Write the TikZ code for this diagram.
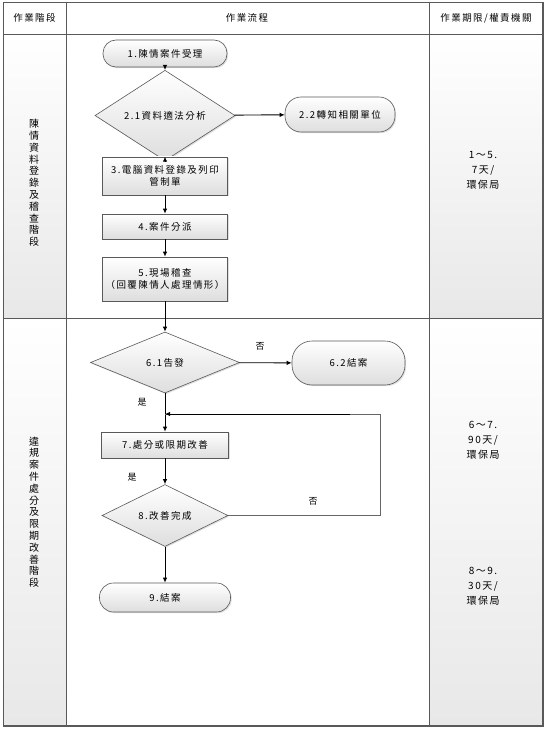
\documentclass[tikz,border=0pt]{standalone}
\usepackage{fontspec}
\setmainfont[LetterSpace=15]{Noto Sans CJK TC}
\usetikzlibrary{shapes.geometric,arrows.meta,shadows}
\begin{document}
\begin{tikzpicture}[x=1pt,y=-1pt,
  every node/.style={font=\fontsize{9.5}{12}\selectfont, inner sep=0pt},
  shp/.style={draw=black!65, line width=0.6pt, top color=white, bottom color=black!13,
    drop shadow={opacity=0.25,shadow xshift=1.2pt,shadow yshift=-1.2pt}},
  proc/.style={shp, rectangle, align=center},
  term/.style={shp, rectangle, rounded corners=13pt, align=center},
  dec/.style={shp, diamond},
  arr/.style={-{Latex[length=5pt,width=4.5pt]}, line width=0.9pt},
  loopline/.style={draw=black!60, line width=0.8pt},
  lbl/.style={font=\fontsize{9}{10}\selectfont},
  tabline/.style={draw=black!65, line width=0.8pt},
  sidecell/.style={top color=white, bottom color=black!9},
  vtext/.style={align=center, font=\fontsize{10}{11.8}\selectfont},
  rtext/.style={align=center, font=\fontsize{10}{15}\selectfont}]
\useasboundingbox (0,0) rectangle (546,730);
\fill[white] (0,0) rectangle (546,730);
% table cells
\shade[sidecell] (3.5,34) rectangle (66,318);
\shade[sidecell] (429,34) rectangle (543,318);
\shade[sidecell] (3.5,318) rectangle (66,726);
\shade[sidecell] (429,318) rectangle (543,726);
\draw[tabline, line width=1.1pt] (3.5,2.5) rectangle (543,726);
\draw[tabline] (3.5,34) -- (543,34);
\draw[tabline] (3.5,318) -- (543,318);
\draw[tabline] (66,2.5) -- (66,726);
\draw[tabline] (429,2.5) -- (429,726);
% headers
\node (h1) at (34.5,18) {作業階段};
\node (h2) at (247,18) {作業流程};
\node (h3) at (486,18) {作業期限/權責機關};
% stage texts
\node[vtext] (s1) at (34,183) {陳\\情\\資\\料\\登\\錄\\及\\稽\\查\\階\\段};
\node[vtext] (s2) at (34,512) {違\\規\\案\\件\\處\\分\\及\\限\\期\\改\\善\\階\\段};
\node[rtext] (r1) at (483,170) {1～5.\\7天/\\環保局};
\node[rtext] (r2) at (483,440) {6～7.\\90天/\\環保局};
\node[rtext] (r3) at (483,586) {8～9.\\30天/\\環保局};
% flow
\node[term, minimum width=124pt, minimum height=27pt] (b1) at (165,53.5) {1.陳情案件受理};
\node[dec, minimum width=140pt, minimum height=53pt] (d21) at (165,115.5) {2.1資料適法分析};
\node[term, minimum width=110pt, minimum height=35pt, rounded corners=16pt] (t22) at (340,114.5) {2.2轉知相關單位};
\node[proc, minimum width=125pt, minimum height=38pt] (b3) at (165,176) {3.電腦資料登錄及列印\\管制單};
\node[proc, minimum width=125pt, minimum height=25pt] (b4) at (165,226.5) {4.案件分派};
\node[proc, minimum width=125pt, minimum height=44pt] (b5) at (165,279) {5.現場稽查\\（回覆陳情人處理情形）};
\node[dec, minimum width=149pt, minimum height=61pt] (d61) at (165,362.5) {6.1告發};
\node[term, minimum width=113pt, minimum height=44pt, rounded corners=20pt] (t62) at (348.5,363) {6.2結案};
\node[proc, minimum width=127pt, minimum height=26pt] (b7) at (165,445) {7.處分或限期改善};
\node[dec, minimum width=126pt, minimum height=51pt] (d8) at (165,515.5) {8.改善完成};
\node[term, minimum width=131pt, minimum height=29pt, rounded corners=14pt] (t9) at (165,597.5) {9.結案};
% connectors
\draw[arr] (b1) -- (d21);
\draw[arr] (d21) -- (t22);
\draw[arr] (d21) -- (b3);
\draw[arr] (b3) -- (b4);
\draw[arr] (b4) -- (b5);
\draw[arr] (b5) -- (d61);
\draw[arr] (d61) -- (t62);
\draw[arr] (d61) -- (b7);
\draw[arr] (b7) -- (d8);
\draw[arr] (d8) -- (t9);
\coordinate (c1) at (380,515.5);
\coordinate (c2) at (380,414);
\coordinate (j) at (165,414);
\draw[loopline] (d8.east) -- (c1) -- (c2) -- (j);
\draw[arr] (c2) ++(-30,0) -- (j);
% labels
\node[lbl] (n1) at (260,346) {否};
\node[lbl] (y1) at (142,402) {是};
\node[lbl] (y2) at (132,477) {是};
\node[lbl] (n2) at (313,501) {否};
\end{tikzpicture}
\end{document}
